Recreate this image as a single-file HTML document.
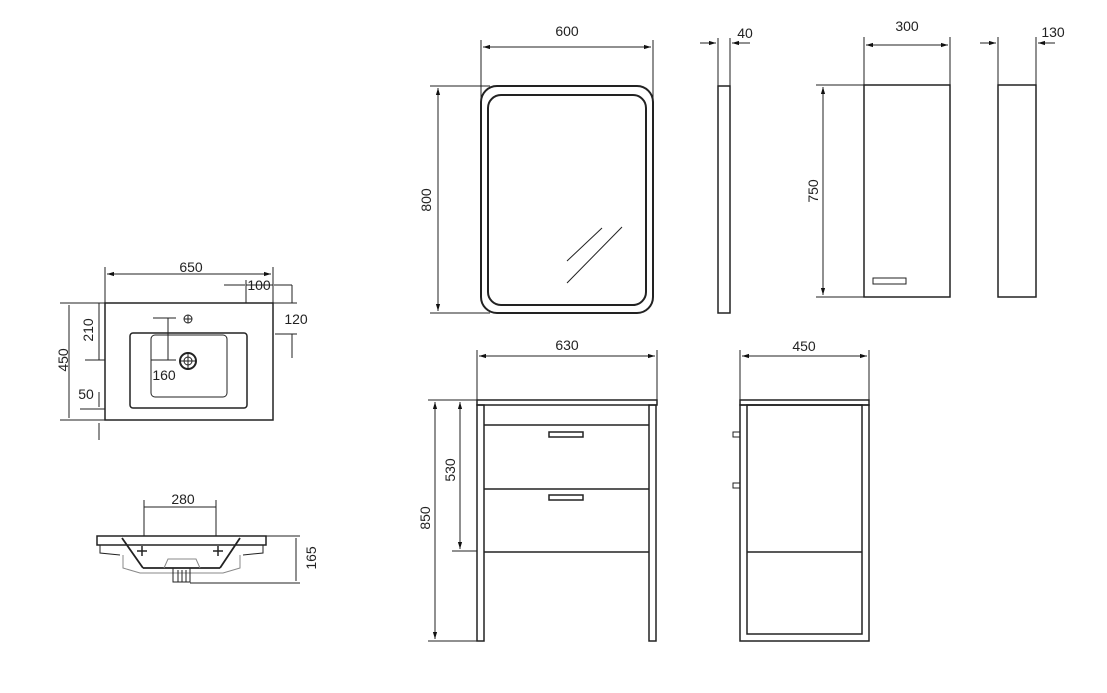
<!DOCTYPE html>
<html><head><style>
html,body{margin:0;padding:0;background:#fff;}
svg{display:block;font-family:"Liberation Sans",sans-serif;}
</style></head><body>
<svg width="1107" height="693" viewBox="0 0 1107 693" xmlns="http://www.w3.org/2000/svg">
<defs>
<marker id="a" viewBox="0 0 10 10" refX="10" refY="5" markerWidth="7" markerHeight="7" orient="auto-start-reverse"><path d="M0,2 L10,5 L0,8 z" fill="#111"/></marker>
</defs>
<g stroke="#222" stroke-width="1" fill="none">
<!-- Mirror -->
<rect x="481" y="86" width="172" height="227" rx="16" stroke-width="2"/>
<rect x="488" y="95" width="158" height="210" rx="13" stroke-width="2"/>
<line x1="567" y1="261" x2="602" y2="228"/>
<line x1="567" y1="283" x2="622" y2="227"/>
<line x1="481" y1="40" x2="481" y2="98"/><line x1="653" y1="40" x2="653" y2="98"/>
<line x1="483" y1="47" x2="651" y2="47" marker-start="url(#a)" marker-end="url(#a)"/>
<line x1="430" y1="86" x2="490" y2="86"/><line x1="430" y1="313" x2="490" y2="313"/>
<line x1="438" y1="88" x2="438" y2="311" marker-start="url(#a)" marker-end="url(#a)"/>
<!-- mirror side -->
<rect x="718" y="86" width="12" height="227" stroke-width="1.5"/>
<line x1="718" y1="38" x2="718" y2="86"/><line x1="730" y1="38" x2="730" y2="86"/>
<line x1="700" y1="43" x2="716" y2="43" marker-end="url(#a)"/>
<line x1="750" y1="43" x2="732" y2="43" marker-end="url(#a)"/>
<!-- cabinet -->
<rect x="864" y="85" width="86" height="212" stroke-width="1.5"/>
<rect x="873" y="278" width="33" height="6"/>
<line x1="864" y1="37" x2="864" y2="85"/><line x1="950" y1="37" x2="950" y2="85"/>
<line x1="866" y1="45" x2="948" y2="45" marker-start="url(#a)" marker-end="url(#a)"/>
<line x1="816" y1="85" x2="870" y2="85"/><line x1="816" y1="297" x2="870" y2="297"/>
<line x1="823" y1="87" x2="823" y2="295" marker-start="url(#a)" marker-end="url(#a)"/>
<rect x="998" y="85" width="38" height="212" stroke-width="1.5"/>
<line x1="998" y1="37" x2="998" y2="85"/><line x1="1036" y1="37" x2="1036" y2="85"/>
<line x1="980" y1="43" x2="996" y2="43" marker-end="url(#a)"/>
<line x1="1055" y1="43" x2="1038" y2="43" marker-end="url(#a)"/>
<!-- vanity front -->
<rect x="477" y="400" width="180" height="5" stroke-width="1.5"/>
<rect x="477" y="405" width="7" height="236" stroke-width="1.5"/>
<rect x="649" y="405" width="7" height="236" stroke-width="1.5"/>
<line x1="484" y1="425" x2="649" y2="425" stroke-width="1.5"/>
<line x1="484" y1="489" x2="649" y2="489" stroke-width="1.5"/>
<line x1="484" y1="552" x2="649" y2="552" stroke-width="1.5"/>
<rect x="549" y="432" width="34" height="5" stroke-width="1.5"/>
<rect x="549" y="495" width="34" height="5" stroke-width="1.5"/>
<line x1="477" y1="350" x2="477" y2="400"/><line x1="657" y1="350" x2="657" y2="400"/>
<line x1="479" y1="356" x2="655" y2="356" marker-start="url(#a)" marker-end="url(#a)"/>
<line x1="428" y1="400" x2="477" y2="400"/><line x1="428" y1="641" x2="477" y2="641"/>
<line x1="435" y1="402" x2="435" y2="639" marker-start="url(#a)" marker-end="url(#a)"/>
<line x1="452" y1="551" x2="477" y2="551"/>
<line x1="460" y1="402" x2="460" y2="549" marker-start="url(#a)" marker-end="url(#a)"/>
<!-- vanity side -->
<rect x="740" y="400" width="129" height="5" stroke-width="1.5"/>
<rect x="740" y="405" width="129" height="236" stroke-width="1.5"/>
<rect x="747" y="405" width="115" height="229" stroke-width="1.5"/>
<line x1="747" y1="552" x2="862" y2="552" stroke-width="1.5"/>
<rect x="733" y="432" width="7" height="5"/><rect x="733" y="483" width="7" height="5"/>
<line x1="740" y1="350" x2="740" y2="400"/><line x1="869" y1="350" x2="869" y2="400"/>
<line x1="742" y1="356" x2="867" y2="356" marker-start="url(#a)" marker-end="url(#a)"/>
<!-- basin top -->
<rect x="105" y="303" width="168" height="117" stroke-width="1.5"/>
<rect x="130" y="333" width="117" height="75" rx="3" stroke-width="1.5"/>
<rect x="151" y="335" width="76" height="62" rx="4"/>
<circle cx="188" cy="361" r="8" stroke-width="2"/><circle cx="188" cy="361" r="4"/>
<line x1="180" y1="361" x2="196" y2="361"/><line x1="188" y1="353" x2="188" y2="369"/>
<circle cx="188" cy="319" r="4"/><line x1="184" y1="319" x2="192" y2="319"/><line x1="188" y1="315" x2="188" y2="323"/>
<line x1="105" y1="267" x2="105" y2="303"/><line x1="273" y1="267" x2="273" y2="303"/>
<line x1="107" y1="274" x2="271" y2="274" marker-start="url(#a)" marker-end="url(#a)"/>
<line x1="224" y1="285" x2="245" y2="285"/><line x1="246" y1="280" x2="246" y2="303"/>
<line x1="274" y1="285" x2="292" y2="285"/><line x1="292" y1="285" x2="292" y2="303"/>
<line x1="246" y1="285" x2="273" y2="285"/>
<line x1="273" y1="303" x2="297" y2="303"/><line x1="275" y1="334" x2="297" y2="334"/>
<line x1="292" y1="334" x2="292" y2="358"/>
<line x1="60" y1="303" x2="105" y2="303"/><line x1="60" y1="420" x2="105" y2="420"/>
<line x1="69" y1="305" x2="69" y2="418"/>
<line x1="99" y1="303" x2="99" y2="360"/><line x1="85" y1="360" x2="105" y2="360"/>
<line x1="80" y1="409" x2="105" y2="409"/>
<line x1="99" y1="392" x2="99" y2="407"/><line x1="99" y1="423" x2="99" y2="440"/>
<line x1="153" y1="318" x2="176" y2="318"/><line x1="168" y1="318" x2="168" y2="360"/><line x1="151" y1="360" x2="176" y2="360"/>
<!-- basin side -->
<path d="M97,536 L266,536 L266,545 L97,545 Z" stroke-width="1.5"/>
<path d="M100,545 L100,553 L120,555" />
<path d="M263,545 L263,553 L243,555"/>
<line x1="122" y1="538" x2="143" y2="568" stroke-width="1.8"/>
<line x1="240" y1="538" x2="220" y2="568" stroke-width="1.8"/>
<line x1="143" y1="568" x2="220" y2="568" stroke-width="1.8"/>
<path d="M123,555 L123,568 L140,573 L223,573 L240,568 L240,555" stroke="#888"/>
<path d="M164,568 L168,559 L196,559 L200,568" stroke="#888"/>
<rect x="173" y="568" width="17" height="14"/>
<line x1="178" y1="570" x2="178" y2="582"/><line x1="182" y1="570" x2="182" y2="582"/><line x1="186" y1="570" x2="186" y2="582"/>
<g stroke-width="1.5"><line x1="137" y1="551" x2="147" y2="551"/><line x1="142" y1="546" x2="142" y2="556"/>
<line x1="213" y1="551" x2="223" y2="551"/><line x1="218" y1="546" x2="218" y2="556"/></g>
<line x1="144" y1="500" x2="144" y2="536"/><line x1="216" y1="500" x2="216" y2="536"/>
<line x1="144" y1="507" x2="216" y2="507"/>
<line x1="266" y1="536" x2="300" y2="536"/><line x1="190" y1="583" x2="300" y2="583"/>
<line x1="296" y1="538" x2="296" y2="581"/>
</g>
<g fill="#222" font-size="14">
<text x="567" y="36" text-anchor="middle">600</text>
<text x="745" y="38" text-anchor="middle">40</text>
<text x="907" y="31" text-anchor="middle">300</text>
<text x="1053" y="37" text-anchor="middle">130</text>
<text x="567" y="350" text-anchor="middle">630</text>
<text x="804" y="351" text-anchor="middle">450</text>
<text transform="translate(431,200) rotate(-90)" text-anchor="middle">800</text>
<text transform="translate(818,191) rotate(-90)" text-anchor="middle">750</text>
<text transform="translate(430,518) rotate(-90)" text-anchor="middle">850</text>
<text transform="translate(455,470) rotate(-90)" text-anchor="middle">530</text>
<text x="191" y="272" text-anchor="middle">650</text>
<text x="259" y="290" text-anchor="middle">100</text>
<text x="296" y="324" text-anchor="middle">120</text>
<text transform="translate(68,360) rotate(-90)" text-anchor="middle">450</text>
<text transform="translate(93,330) rotate(-90)" text-anchor="middle">210</text>
<text x="86" y="399" text-anchor="middle">50</text>
<text x="164" y="380" text-anchor="middle">160</text>
<text x="183" y="504" text-anchor="middle">280</text>
<text transform="translate(316,558) rotate(-90)" text-anchor="middle">165</text>
</g>
</svg>
</body></html>
